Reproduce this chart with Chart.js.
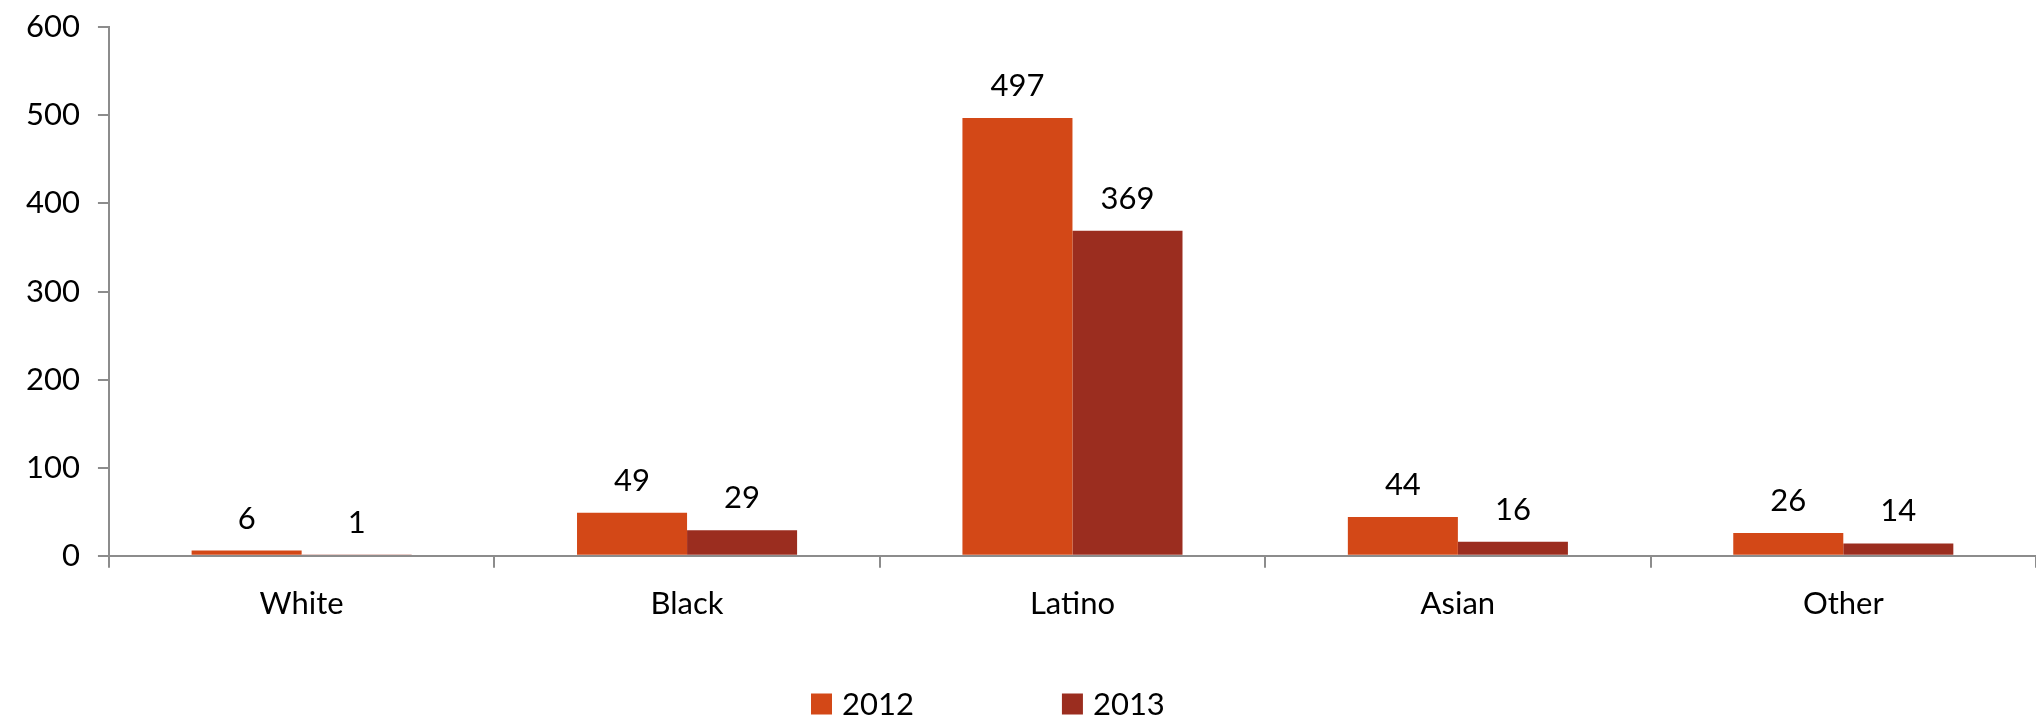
<!DOCTYPE html>
<html>
<head>
<meta charset="utf-8">
<script src="https://cdn.jsdelivr.net/npm/chart.js@4/dist/chart.umd.min.js"></script>
<style>
  html, body { margin: 0; padding: 0; background: #fff; }
  canvas { display: block; }
</style>
</head>
<body>
<canvas id="chart" width="2036" height="718"></canvas>
<script>
const categories = ['White', 'Black', 'Latino', 'Asian', 'Other'];
const values2012 = [6, 49, 497, 44, 26];
const values2013 = [1, 29, 369, 16, 14];
const yTicks = [0, 100, 200, 300, 400, 500, 600];

const FONT = 'Lato, "Open Sans", sans-serif';

// draws the number above each bar
const valueLabels = {
    id: 'valueLabels',
    afterDatasetsDraw(chart) {
        const ctx = chart.ctx;
        ctx.save();
        ctx.font = '31px ' + FONT;
        ctx.fillStyle = '#000';
        ctx.textAlign = 'center';
        ctx.textBaseline = 'alphabetic';
        chart.data.datasets.forEach((ds, i) => {
            chart.getDatasetMeta(i).data.forEach((bar, j) => {
                ctx.fillText(ds.data[j], bar.x, bar.y - 22);
            });
        });
        ctx.restore();
    }
};

// legend drawn by hand so the two items can sit far apart without eating height
const bottomLegend = {
    id: 'bottomLegend',
    afterDraw(chart) {
        const ctx = chart.ctx;
        ctx.save();
        ctx.font = '31px ' + FONT;
        ctx.textBaseline = 'middle';
        ctx.textAlign = 'left';
        const box = 21, gap = 10, spacing = 148;
        const items = chart.data.datasets;
        let total = 0;
        items.forEach((ds, i) => {
            total += box + gap + ctx.measureText(ds.label).width + (i ? spacing : 0);
        });
        let x = Math.round(chart.width * 0.485 - total / 2);
        const cy = 704;
        items.forEach(ds => {
            ctx.fillStyle = ds.backgroundColor;
            ctx.fillRect(x, cy - box / 2, box, box);
            ctx.fillStyle = '#000';
            ctx.fillText(ds.label, x + box + gap, cy + 1);
            x += box + gap + ctx.measureText(ds.label).width + spacing;
        });
        ctx.restore();
    }
};

const ctx = document.getElementById('chart').getContext('2d');
new Chart(ctx, {
    type: 'bar',
    data: {
        labels: categories,
        datasets: [
            { label: '2012', data: values2012, backgroundColor: '#D34817' },
            { label: '2013', data: values2013, backgroundColor: '#9B2D1F' }
        ]
    },
    options: {
        responsive: false,
        animation: false,
        layout: { padding: { left: 8, top: -10, right: 0, bottom: 77 } },
        datasets: {
            bar: { categoryPercentage: 0.571, barPercentage: 1.0 }
        },
        scales: {
            x: {
                grid: { drawOnChartArea: false, drawTicks: true, tickLength: 12, color: '#8c8c8c', lineWidth: 2 },
                border: { display: true, color: '#8c8c8c', width: 2 },
                ticks: { color: '#000', font: { family: FONT, size: 31 }, padding: 18 }
            },
            y: {
                min: 0,
                max: 600,
                afterBuildTicks: axis => { axis.ticks = yTicks.map(v => ({ value: v })); },
                grid: { drawOnChartArea: false, drawTicks: true, tickLength: 11, color: '#8c8c8c', lineWidth: 2 },
                border: { display: true, color: '#8c8c8c', width: 2 },
                ticks: { color: '#000', font: { family: FONT, size: 31, lineHeight: 0.6 }, padding: 18 }
            }
        },
        plugins: {
            legend: { display: false },
            tooltip: { enabled: false }
        }
    },
    plugins: [valueLabels, bottomLegend]
});
</script>
</body>
</html>
